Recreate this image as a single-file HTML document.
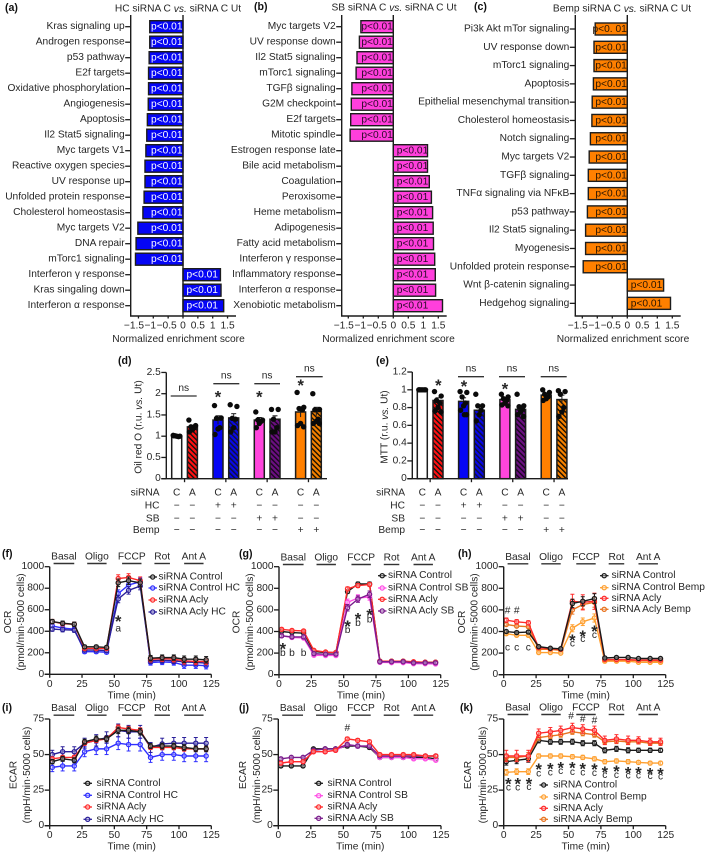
<!DOCTYPE html>
<html lang="en">
<head>
<meta charset="utf-8">
<title>GSEA, Oil red O, MTT, OCR and ECAR panels</title>
<style>
html,body{margin:0;padding:0;background:#fff;}
svg{display:block;filter:blur(0.38px);}
text{font-family:"Liberation Sans",sans-serif;font-size:10.2px;fill:#262626;dominant-baseline:central;}
.plab{font-weight:bold;font-size:10.6px;fill:#111;}
</style>
</head>
<body>
<svg id="fig" xmlns="http://www.w3.org/2000/svg" width="709" height="855" viewBox="0 0 709 855">
<defs>
<pattern id="hatch-red" width="3.6" height="3.6" patternUnits="userSpaceOnUse" patternTransform="rotate(-45)"><rect width="3.6" height="3.6" fill="#ff1010"/><rect width="1.4" height="3.6" fill="#111"/></pattern>
<pattern id="hatch-blue" width="3.6" height="3.6" patternUnits="userSpaceOnUse" patternTransform="rotate(-45)"><rect width="3.6" height="3.6" fill="#0808e8"/><rect width="1.5" height="3.6" fill="#101040"/></pattern>
<pattern id="hatch-purple" width="3.6" height="3.6" patternUnits="userSpaceOnUse" patternTransform="rotate(-45)"><rect width="3.6" height="3.6" fill="#6a0f80"/><rect width="1.4" height="3.6" fill="#1a0520"/></pattern>
<pattern id="hatch-orange" width="3.6" height="3.6" patternUnits="userSpaceOnUse" patternTransform="rotate(-45)"><rect width="3.6" height="3.6" fill="#f58000"/><rect width="1.4" height="3.6" fill="#1a1000"/></pattern>
</defs>

<text class="plab" x="5" y="8">(a)</text>
<text class="plab" x="254" y="7">(b)</text>
<text class="plab" x="474" y="7">(c)</text>
<text class="plab" x="118" y="361">(d)</text>
<text class="plab" x="376" y="361">(e)</text>
<text class="plab" x="2" y="554">(f)</text>
<text class="plab" x="239" y="554">(g)</text>
<text class="plab" x="458" y="554">(h)</text>
<text class="plab" x="2" y="708">(i)</text>
<text class="plab" x="239" y="708">(j)</text>
<text class="plab" x="460" y="708">(k)</text>

<text x="178" y="9" text-anchor="middle">HC siRNA C <tspan font-style="italic">vs.</tspan> siRNA C Ut</text>
<text x="394" y="8" text-anchor="middle">SB siRNA C <tspan font-style="italic">vs.</tspan> siRNA C Ut</text>
<text x="622" y="9" text-anchor="middle">Bemp siRNA C <tspan font-style="italic">vs.</tspan> siRNA C Ut</text>
<text x="178.5" y="339.5" text-anchor="middle">Normalized enrichment score</text>
<text x="388.5" y="339.5" text-anchor="middle">Normalized enrichment score</text>
<text x="623" y="339.5" text-anchor="middle">Normalized enrichment score</text>

<text transform="translate(139 427) rotate(-90)" text-anchor="middle">Oil red O (r.u. <tspan font-style="italic">vs.</tspan> Ut)</text>
<text transform="translate(385 427) rotate(-90)" text-anchor="middle">MTT (r.u. <tspan font-style="italic">vs.</tspan> Ut)</text>

<g id="panel-a"></g>
<g id="panel-b"></g>
<g id="panel-c"></g>
<g id="panel-d"></g>
<g id="panel-e"></g>
<g id="panel-f"></g>
<g id="panel-g"></g>
<g id="panel-h"></g>
<g id="panel-i"></g>
<g id="panel-j"></g>
<g id="panel-k"></g>
</svg>

<script>
/* ---------- GSEA data ---------- */
const gseaXTicks = [-1.5, -1, -0.5, 0, 0.5, 1, 1.5];
const gseaTickLabels = ['\u22121.5', '\u22121', '\u22120.5', '0', '0.5', '1', '1.5'];

const labelsA = ['Kras signaling up','Androgen response','p53 pathway','E2f targets','Oxidative phosphorylation','Angiogenesis','Apoptosis','Il2 Stat5 signaling','Myc targets V1','Reactive oxygen species','UV response up','Unfolded protein response','Cholesterol homeostasis','Myc targets V2','DNA repair','mTorc1 signaling','Interferon \u03b3 response','Kras singaling down','Interferon \u03b1 response'];
const valuesA = [-1.12,-1.12,-1.14,-1.16,-1.16,-1.17,-1.2,-1.22,-1.25,-1.28,-1.28,-1.31,-1.35,-1.52,-1.58,-1.6,1.26,1.28,1.37];
const pLabelsA = ['p<0.01','p<0.01','p<0.01','p<0.01','p<0.01','p<0.01','p<0.01','p<0.01','p<0.01','p<0.01','p<0.01','p<0.01','p<0.01','p<0.01','p<0.01','p<0.01','p<0.01','p<0.01','p<0.01'];

const labelsB = ['Myc targets V2','UV response down','Il2 Stat5 signaling','mTorc1 signaling','TGF\u03b2 signaling','G2M checkpoint','E2f targets','Mitotic spindle','Estrogen response late','Bile acid metabolism','Coagulation','Peroxisome','Heme metabolism','Adipogenesis','Fatty acid metabolism','Interferon \u03b3 response','Inflammatory response','Interferon \u03b1 response','Xenobiotic metabolism'];
const valuesB = [-1.08,-1.13,-1.21,-1.24,-1.38,-1.4,-1.42,-1.44,1.14,1.14,1.2,1.27,1.31,1.33,1.34,1.38,1.4,1.41,1.64];
const pLabelsB = ['p<0.01','p<0.01','p<0.01','p<0.01','p<0.01','p<0.01','p<0.01','p<0.01','p<0.01','p<0.01','p<0.01','p<0.01','p<0.01','p<0.01','p<0.01','p<0.01','p<0.01','p<0.01','p<0.01'];

const labelsC = ['Pi3k Akt mTor signaling','UV response down','mTorc1 signaling','Apoptosis','Epithelial mesenchymal transition','Cholesterol homeostasis','Notch signaling','Myc targets V2','TGF\u03b2 signaling','TNF\u03b1 signaling via NF\u03baB','p53 pathway','Il2 Stat5 signaling','Myogenesis','Unfolded protein response','Wnt \u03b2-catenin signaling','Hedgehog signaling'];
const valuesC = [-1.07,-1.11,-1.11,-1.13,-1.17,-1.18,-1.23,-1.27,-1.3,-1.3,-1.33,-1.39,-1.39,-1.47,1.21,1.44];
const pLabelsC = ['p<0. 01','p<0.01','p<0.01','p<0.01','p<0.01','p<0.01','p<0.01','p<0.01','p<0.01','p<0.01','p<0.01','p<0.01','p<0.01','p<0.01','p<0.01','p<0.01'];

/* ---------- Bar + scatter data ---------- */
const tableRowNames = ['siRNA','HC','SB','Bemp'];
const tableSiRNA = ['C','A','C','A','C','A','C','A'];
const tableHC = ['\u2212','\u2212','+','+','\u2212','\u2212','\u2212','\u2212'];
const tableSB = ['\u2212','\u2212','\u2212','\u2212','+','+','\u2212','\u2212'];
const tableBemp = ['\u2212','\u2212','\u2212','\u2212','\u2212','\u2212','+','+'];

const oilTicks = [0, 0.5, 1, 1.5, 2, 2.5];
const oilTickLabels = ['0','0.5','1','1.5','2','2.5'];
const oilMeans = [1.0,1.22,1.38,1.43,1.38,1.4,1.57,1.58];
const oilSem = [0.01,0.04,0.1,0.1,0.06,0.08,0.12,0.1];
const oilDots = [
  [1.02,1.0,1.01,0.99,1.0,1.01],
  [1.38,1.25,1.22,1.2,1.15,1.1],
  [1.72,1.43,1.42,1.2,1.17,1.04],
  [1.74,1.7,1.42,1.4,1.2,1.1],
  [1.57,1.38,1.38,1.35,1.3,1.2],
  [1.63,1.63,1.4,1.2,1.1,1.1],
  [2.03,1.68,1.65,1.62,1.3,1.25,1.22],
  [2.0,1.63,1.62,1.4,1.35,1.3,1.3]
];

const mttTicks = [0, 0.2, 0.4, 0.6, 0.8, 1, 1.2];
const mttTickLabels = ['0','0.2','0.4','0.6','0.8','1','1.2'];
const mttMeans = [1.0,0.88,0.87,0.77,0.89,0.78,0.94,0.89];
const mttSem = [0.005,0.03,0.04,0.04,0.02,0.03,0.02,0.05];
const mttDots = [
  [1.0,1.0,1.0,1.0,1.0,1.0],
  [0.98,0.93,0.88,0.85,0.8,0.76,0.75],
  [0.98,0.97,0.92,0.85,0.82,0.77,0.72,0.72],
  [0.95,0.82,0.82,0.77,0.72,0.65],
  [0.95,0.92,0.9,0.88,0.85,0.83,0.82],
  [0.95,0.82,0.81,0.78,0.75,0.72,0.7],
  [1.0,0.97,0.95,0.92,0.9,0.88],
  [0.99,0.98,0.95,0.8,0.75,0.7]
];

/* ---------- Seahorse data ---------- */
const timeMin = [2,10,19,27,36,44,53,61,70,78,87,96,104,113,121];
const timeTicks = [0,25,50,75,100,125];
const timeTickLabels = ['0','25','50','75','100','125'];
const ocrTicks = [0,200,400,600,800,1000];
const ocrTickLabels = ['0','200','400','600','800','1000'];
const ecarTicks = [0,25,50,75];
const ecarTickLabels = ['0','25','50','75'];
const phaseNames = ['Basal','Oligo','FCCP','Rot','Ant A'];
const phaseStart = [3,29,56,81,104];
const phaseEnd = [19,44,71,93,119];

const ocrFControl = [490,475,465,255,255,250,850,870,850,150,155,155,140,140,135];
const ocrFControlHC = [450,430,420,210,210,205,750,830,860,110,115,110,85,85,80];
const ocrFAcly = [490,470,465,240,240,240,890,900,870,140,145,140,125,120,120];
const ocrFAclyHC = [420,415,410,225,225,220,700,780,820,125,130,125,115,110,105];
const errF = [20,20,20,15,15,15,35,35,35,25,25,25,30,30,30];

const ocrGControl = [400,390,385,215,205,205,770,840,840,125,125,125,115,115,115];
const ocrGControlSB = [360,345,340,180,178,178,670,710,720,115,112,112,102,102,100];
const ocrGAcly = [420,410,405,225,210,205,795,825,835,125,125,125,120,115,115];
const ocrGAclySB = [360,350,350,195,190,190,620,700,745,120,120,120,110,110,110];
const errG = [15,15,15,12,12,12,30,30,30,10,10,10,10,10,10];

const ocrHControl = [400,390,395,260,245,240,660,680,705,155,160,160,150,150,150];
const ocrHControlBemp = [380,365,365,205,205,200,430,490,525,125,125,125,115,115,115];
const ocrHAcly = [505,490,480,250,240,235,680,670,680,140,140,140,135,135,135];
const ocrHAclyBemp = [465,450,445,235,235,225,600,650,670,130,135,135,130,130,125];
const errH = [20,20,20,12,12,12,65,70,75,10,10,10,10,10,10];

const ecarIControl = [45,47,46,59,61,61,67,67,66,56,56,56,55,54,54];
const ecarIControlHC = [41,42,42,52,54,54,58,57,57,48,50,50,49,49,49];
const ecarIAcly = [47,48,48,58,60,61,69,68,67,55,55,55,54,54,54];
const ecarIAclyHC = [50,52,52,58,60,62,67,66,66,55,57.5,58,58,58,58];
const errI = [3,3.5,3.5,3.5,4,4,4.5,4.5,4.5,3.5,4,4,4,4,4];

const ecarJControl = [42,42,42,54,54,54,56,56,55,48,48,48,48,48,47];
const ecarJControlSB = [44,45,45,52,52,53,57,56,56,48,48,48,47,47,46];
const ecarJAcly = [44,45,45,52,52,53,61,60,59,50,50,50,50,49,49];
const ecarJAclySB = [47,48,48,53,54,54,57,56,56,49,49,49,49,49,49];
const errJ = [1,1,1,1,1,1,1.2,1.2,1.2,1,1,1,1,1,1];

const ecarKControl = [45,46,47,60,59,59,59,58,58,53,54,53,53,53,53];
const ecarKControlBemp = [37.5,38,38,49,49,49,48.5,48,47,45,45.5,45,44.5,44,44];
const ecarKAcly = [49,49,49,65,66,67,69,68,67,60,61,60,60,59,59];
const ecarKAclyBemp = [48,48,49,62,63,64,66,65,64,59,59.5,59,59,58,58];
const errK = [4,4,4,3,3,3,3,3,3,3,3,3,2.5,2.5,2.5];

const legendF = ['siRNA Control','siRNA Control HC','siRNA Acly','siRNA Acly HC'];
const legendG = ['siRNA Control','siRNA Control SB','siRNA Acly','siRNA Acly SB'];
const legendH = ['siRNA Control','siRNA Control Bemp','siRNA Acly','siRNA Acly Bemp'];

/* Significance marks: [symbol, minutes, axis value] */
const annF = [['*',53,526],['a',53,421]];
const annG = [['*',3,275],['b',3,197],['b',10,197],['b',19,197],['*',53,485],['b',53,410],['*',61,552],['b',61,475],['*',70,590],['b',70,506]];
const annH = [['#',3,590],['#',10,590],['c',3,247],['c',10,247],['c',19,247],['*',53,355],['c',53,285],['*',61,390],['c',61,325],['*',70,435],['c',70,365]];
const annJ = [['#',53,68.4]];
const annK = [['#',52,76.6],['#',61,74.8],['#',70,73.6],
  ['*',3.6,32.1],['c',3.6,26.5],['*',10.8,32.1],['c',10.8,26.5],['*',19.5,32.1],['c',19.5,26.7],
  ['*',27,42.2],['c',27,36.3],['*',36,42.7],['c',36,37.2],['*',44,43.4],['c',44,38],
  ['*',53,43.4],['c',53,37.5],['*',61,42.7],['c',61,37],['*',70,42.2],['c',70,36.6],
  ['*',78,40.3],['c',78,35.4],['*',87,40.8],['c',87,35.4],['*',96,39.8],['c',96,35],
  ['*',104,39.8],['c',104,35],['*',113,39.1],['c',113,34.6],['*',121,39.1],['c',121,34.1]];

/* ---------- drawing ---------- */
const NS = 'http://www.w3.org/2000/svg';
const INK = '#1c1c1c';
function mk(tag, parent, attrs) {
  const node = document.createElementNS(NS, tag);
  for (const k in attrs) node.setAttribute(k, attrs[k]);
  parent.appendChild(node);
  return node;
}
function tx(parent, x, y, str, anchor) {
  const node = mk('text', parent, {x: x, y: y, 'text-anchor': anchor || 'middle'});
  node.textContent = str;
  return node;
}
function line(parent, x1, y1, x2, y2, color, w) {
  return mk('line', parent, {x1: x1, y1: y1, x2: x2, y2: y2, stroke: color || INK, 'stroke-width': w || 1.3});
}

function drawGsea(id, labels, values, pLabels, fill, pColor, c) {
  const g = document.getElementById(id);
  const x = v => c.zero + c.unit * v;
  const y = i => c.firstY + c.stepY * i;

  labels.forEach((name, i) => {
    const v = values[i];
    const bar = mk('rect', g, {x: Math.min(x(0), x(v)), y: y(i) - 6, width: Math.abs(x(v) - x(0)), height: 12, fill: fill, stroke: INK, 'stroke-width': 1.4});
    
    

    const p = v < 0 ? tx(g, x(0) - 0.5, y(i) + 0.5, pLabels[i], 'end') : tx(g, x(0) + 3.5, y(i) + 0.5, pLabels[i], 'start');
    p.style.fill = pColor;
    
    

    const tick = line(g, c.left - 5.5, y(i), c.left, y(i));
    
    

    const lab = tx(g, c.left - 6, y(i), name, 'end');
    
    
  });

  const ya = line(g, c.left, c.top, c.left, c.bottom, INK, 1.4);
  
  

  const xa = line(g, c.left - 0.7, c.bottom, c.right, c.bottom, INK, 1.4);
  
  

  const zl = line(g, x(0), c.top, x(0), c.bottom, INK, 1.4);
  
  

  gseaXTicks.forEach((t, i) => {
    const tick = line(g, x(t), c.bottom, x(t), c.bottom + 2.5);
    
    

    const lab = tx(g, x(t) + Math.min(0, t) * 3, c.bottom + 10, gseaTickLabels[i]);
    
    
  });
}

function star(parent, cx, cy) {
  const node = mk('text', parent, {x: cx, y: cy + 9.5, 'text-anchor': 'middle'});
  node.textContent = '*';
  node.style.fontSize = '16.5px';
  node.style.fontWeight = 'bold';
  node.style.dominantBaseline = 'alphabetic';
  return node;
}

const barFills = ['#ffffff','url(#hatch-red)','#0505f5','url(#hatch-blue)','#ff45dc','url(#hatch-purple)','#ff8000','url(#hatch-orange)'];
const dotJitter = [-3.5, 3.2, -1.5, 1.8, 0, -3, 3, 0.8];

function drawBars(id, means, sem, dots, ticks, tickLabels, c) {
  const g = document.getElementById(id);
  const y = v => c.y0 - c.unit * v;
  const xBar = i => c.x0 + 15.7 * (i % 2) + 41.3 * Math.floor(i / 2);

  means.forEach((m, i) => {
    const bar = mk('rect', g, {x: xBar(i) - 5, y: y(m), width: 10, height: y(0) - y(m), fill: barFills[i], stroke: INK, 'stroke-width': 1.5});
    
    

    const eb = line(g, xBar(i), y(m - sem[i]), xBar(i), y(m + sem[i]), INK, 1);
    
    

    const cap = line(g, xBar(i) - 2.5, y(m + sem[i]), xBar(i) + 2.5, y(m + sem[i]), INK, 1);
    
    

    dots[i].forEach((d, j) => {
      const dot = mk('circle', g, {cx: xBar(i) + dotJitter[j % dotJitter.length], cy: y(d), r: 2.7, fill: '#0a0a0a'});
      
      
    });
  });

  const ya = line(g, c.axisX, y(ticks[ticks.length - 1]), c.axisX, y(0), INK, 1.4);
  
  

  const xa = line(g, c.axisX - 5, y(0), c.right, y(0), INK, 1.4);
  
  

  ticks.forEach((t, i) => {
    const tk = line(g, c.axisX - 5, y(t), c.axisX, y(t));
    
    

    const lb = tx(g, c.axisX - 5.5, y(t), tickLabels[i], 'end');
    
    
  });

  for (let k = 0; k < 4; k++) {
    const tk = line(g, xBar(2 * k) + 7.85, y(0), xBar(2 * k) + 7.85, y(0) + 3.5);
    
    
  }

  const rows = [tableSiRNA, tableHC, tableSB, tableBemp];
  const rowY = [493, 506, 519, 530.5];
  rows.forEach((r, ri) => {
    const head = tx(g, c.rowX, rowY[ri], tableRowNames[ri], 'end');
    
    
    r.forEach((cell, i) => {
      const t = tx(g, xBar(i), rowY[ri], cell);
      
      
    });
  });

  c.brackets.forEach(b => {
    const l = line(g, b[0], b[2], b[1], b[2], '#333', 1.3);
    
    

    const ns = tx(g, (b[0] + b[1]) / 2, b[2] - 7.5, 'ns');
    
    
  });
  c.stars.forEach(s => {
    const st = star(g, s[0], s[1]);
    
    
  });
}

function drawLines(id, series, colors, names, err, errScale, ticks, tickLabels, ann, c) {
  const g = document.getElementById(id);
  const x = t => c.x0 + (c.x1 - c.x0) * t / 125;
  const y = v => c.yB - (c.yB - c.yT) * v / c.yMax;

  const order = c.order || [3, 2, 1, 0];
  order.forEach(s => {
    const vals = series[s];
    const poly = mk('polyline', g, {points: vals.map((v, i) => x(timeMin[i]) + ',' + y(v)).join(' '), fill: 'none', stroke: colors[s], 'stroke-width': 1.4});
    
    

    vals.forEach((v, i) => {
      const e = err[i] * errScale[s];
      const px = x(timeMin[i]);
      const bar = line(g, px, y(v - e), px, y(v + e), colors[s], 1);
      
      

      const capT = line(g, px - 2, y(v + e), px + 2, y(v + e), colors[s], 1);
      
      

      const capB = line(g, px - 2, y(v - e), px + 2, y(v - e), colors[s], 1);
      
      

      const pt = mk('circle', g, {cx: px, cy: y(v), r: 2.1, fill: '#ffffff', 'fill-opacity': 0.35, stroke: colors[s], 'stroke-width': 1.25});
      
      
    });
  });

  const ya = line(g, c.x0, c.yT, c.x0, c.yB, INK, 1.4);
  
  

  const xa = line(g, c.x0 - 5, c.yB, c.x1, c.yB, INK, 1.4);
  
  

  ticks.forEach((t, i) => {
    const tk = line(g, c.x0 - 5, y(t), c.x0, y(t));
    
    

    const lb = tx(g, c.x0 - 5.5, y(t), tickLabels[i], 'end');
    
    
  });

  timeTicks.forEach((t, i) => {
    const tk = line(g, x(t), c.yB, x(t), c.yB + 3.5);
    
    

    const lb = tx(g, x(t), c.yB + 10, timeTickLabels[i]);
    
    
  });

  const xt = tx(g, c.x0 + 82, c.yB + 21.5, 'Time (min)');
  
  

  const yt1 = mk('text', g, {transform: 'translate(' + (c.x0 + c.yLab1) + ' ' + c.yLabC + ') rotate(-90)', 'text-anchor': 'middle'});
  yt1.textContent = c.title1;
  
  

  const yt2 = mk('text', g, {transform: 'translate(' + (c.x0 + c.yLab2) + ' ' + c.yLabC + ') rotate(-90)', 'text-anchor': 'middle'});
  yt2.textContent = c.title2;
  
  

  phaseNames.forEach((p, i) => {
    const lb = tx(g, x((phaseStart[i] + phaseEnd[i]) / 2), c.phaseY, p);
    
    

    const br = line(g, x(phaseStart[i]), c.phaseY + 6.5, x(phaseEnd[i]), c.phaseY + 6.5, '#333', 1.4);
    
    
  });

  names.forEach((n, i) => {
    const ly = c.legY[i];
    const ll = line(g, c.legX, ly, c.legX + 8.5, ly, colors[i], 1.3);
    
    

    const lm = mk('circle', g, {cx: c.legX + 4.2, cy: ly, r: 2.1, fill: '#ffffff', 'fill-opacity': 0.35, stroke: colors[i], 'stroke-width': 1.25});
    
    

    const lt = tx(g, c.legX + c.legGap, ly, n, 'start');
    
    
  });

  ann.forEach(a => {
    if (a[0] === '*') {
      const st = star(g, x(a[1]), y(a[2]));
      
      
    } else {
      const m = tx(g, x(a[1]), y(a[2]), a[0]);
      
      
    }
  });
}

/* GSEA panels */
drawGsea('panel-a', labelsA, valuesA, pLabelsA, '#0505f5', '#ffffff', {zero: 183, unit: 29.7, left: 130.7, right: 236, top: 15, bottom: 316, firstY: 26.7, stepY: 15.5});
drawGsea('panel-b', labelsB, valuesB, pLabelsB, '#ff3fdc', '#2a0a28', {zero: 393.3, unit: 30, left: 341.7, right: 446.7, top: 15, bottom: 316, firstY: 26.7, stepY: 15.5});
drawGsea('panel-c', labelsC, valuesC, pLabelsC, '#ff8000', '#2a1500', {zero: 627.3, unit: 30, left: 575.3, right: 680.7, top: 15, bottom: 316, firstY: 29, stepY: 18.29});

/* Bar panels */
drawBars('panel-d', oilMeans, oilSem, oilDots, oilTicks, oilTickLabels, {
  x0: 176.7, y0: 478.7, unit: 42.5, axisX: 166.3, right: 327, rowX: 159.5,
  brackets: [[170.7,196.7,396],[213.3,239.3,383.7],[254.3,280,383.7],[296,322.7,376.7]],
  stars: [[218,393],[259.3,393],[300.7,381.7]]
});
drawBars('panel-e', mttMeans, mttSem, mttDots, mttTicks, mttTickLabels, {
  x0: 422.3, y0: 478.7, unit: 88.9, axisX: 412.3, right: 568, rowX: 405,
  brackets: [[458,484,376.7],[499,525,376.7],[540.7,566.7,376.7]],
  stars: [[438.3,381.7],[464,382.7],[505,385]]
});

/* Seahorse panels */
const colHC = ['#1a1a1a','#2f2fff','#ff2a2a','#2a1f9a'];
const colSB = ['#1a1a1a','#ff4fe6','#ff2a2a','#7a1c8c'];
const colBemp = ['#1a1a1a','#ffa030','#ff2a2a','#e87420'];

drawLines('panel-f', [ocrFControl, ocrFControlHC, ocrFAcly, ocrFAclyHC], colHC, legendF, errF, [1,1,1,1], ocrTicks, ocrTickLabels, annF, {
  x0: 49.7, x1: 211.3, yT: 566.7, yB: 674.3, yMax: 1000, title1: 'OCR', title2: '(pmol/min\u00b75000 cells)',
  yLab1: -41.4, yLab2: -28, yLabC: 622, phaseY: 557, legX: 148.5, legGap: 10, legY: [577,588,600,612], order: [1,3,2,0]
});
drawLines('panel-g', [ocrGControl, ocrGControlSB, ocrGAcly, ocrGAclySB], colSB, legendG, errG, [0.6,1,0.6,1], ocrTicks, ocrTickLabels, annG, {
  x0: 279, x1: 440.7, yT: 566.7, yB: 674.7, yMax: 1000, title1: 'OCR', title2: '(pmol/min\u00b75000 cells)',
  yLab1: -42, yLab2: -28.3, yLabC: 622, phaseY: 558, legX: 378, legGap: 10, legY: [575.7,588,599.3,611], order: [0,2,1,3]
});
drawLines('panel-h', [ocrHControl, ocrHControlBemp, ocrHAcly, ocrHAclyBemp], colBemp, legendH, errH, [0.6,0.5,1,0.6], ocrTicks, ocrTickLabels, annH, {
  x0: 503.7, x1: 665.7, yT: 566.7, yB: 674.7, yMax: 1000, title1: 'OCR', title2: '(pmol/min\u00b75000 cells)',
  yLab1: -41, yLab2: -28.7, yLabC: 622, phaseY: 557.3, legX: 600, legGap: 11.5, legY: [575.7,587.7,598.3,609.3], order: [3,1,2,0]
});
drawLines('panel-i', [ecarIControl, ecarIControlHC, ecarIAcly, ecarIAclyHC], colHC, legendF, errI, [0.5,1,0.4,1], ecarTicks, ecarTickLabels, [], {
  x0: 49.7, x1: 211.3, yT: 719, yB: 825.7, yMax: 75, title1: 'ECAR', title2: '(mpH/min\u00b75000 cells)',
  yLab1: -35.7, yLab2: -22.4, yLabC: 775, phaseY: 708.7, legX: 83.5, legGap: 13, legY: [783.3,795.3,807,819.3], order: [1,3,2,0]
});
drawLines('panel-j', [ecarJControl, ecarJControlSB, ecarJAcly, ecarJAclySB], colSB, legendG, errJ, [1,1,1,1], ecarTicks, ecarTickLabels, annJ, {
  x0: 278.3, x1: 441, yT: 719, yB: 825.7, yMax: 75, title1: 'ECAR', title2: '(mpH/min\u00b75000 cells)',
  yLab1: -35, yLab2: -20.6, yLabC: 775, phaseY: 708.7, legX: 314.5, legGap: 13, legY: [783.3,795.7,807,818.3], order: [0,1,3,2]
});
drawLines('panel-k', [ecarKControl, ecarKControlBemp, ecarKAcly, ecarKAclyBemp], colBemp, legendH, errK, [0.6,0.5,1,0.6], ecarTicks, ecarTickLabels, annK, {
  x0: 503.7, x1: 665.7, yT: 719, yB: 825.7, yMax: 75, title1: 'ECAR', title2: '(mpH/min\u00b75000 cells)',
  yLab1: -35.4, yLab2: -20.4, yLabC: 775, phaseY: 708, legX: 539.5, legGap: 13.7, legY: [785,797,808.3,819.3], order: [0,1,3,2]
});
</script>
</body>
</html>
